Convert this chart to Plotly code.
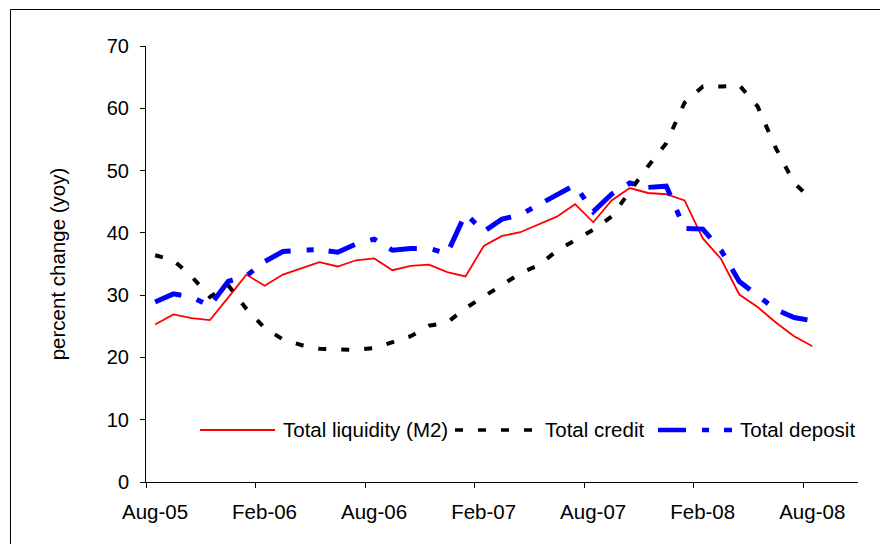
import plotly.graph_objects as go

# ---------------- data ----------------
months = ["Aug-05", "Sep-05", "Oct-05", "Nov-05", "Dec-05", "Jan-06",
          "Feb-06", "Mar-06", "Apr-06", "May-06", "Jun-06", "Jul-06",
          "Aug-06", "Sep-06", "Oct-06", "Nov-06", "Dec-06", "Jan-07",
          "Feb-07", "Mar-07", "Apr-07", "May-07", "Jun-07", "Jul-07",
          "Aug-07", "Sep-07", "Oct-07", "Nov-07", "Dec-07", "Jan-08",
          "Feb-08", "Mar-08", "Apr-08", "May-08", "Jun-08", "Jul-08",
          "Aug-08"]

total_liquidity_m2 = [25.3, 26.9, 26.3, 26.0, 29.6, 33.3, 31.5, 33.3, 34.3, 35.3,
                      34.6, 35.6, 35.9, 34.0, 34.7, 34.9, 33.7, 33.0, 37.9, 39.5,
                      40.1, 41.4, 42.6, 44.6, 41.7, 45.2, 47.2, 46.4, 46.2, 45.2,
                      39.1, 35.8, 30.1, 28.1, 25.6, 23.4, 21.8]

total_credit = [36.4, 35.6, 33.0, 29.7, 31.6, 27.8, 24.7, 22.9, 22.0, 21.4,
                21.3, 21.2, 21.5, 22.5, 23.4, 25.1, 25.6, 27.9, 29.8, 31.6,
                33.5, 34.8, 37.1, 38.8, 40.5, 42.6, 46.6, 50.7, 54.4, 60.9,
                63.5, 63.5, 63.7, 60.3, 53.6, 48.0, 45.3]

total_deposit = [28.9, 30.2, 29.7, 28.3, 32.2, 33.1, 35.4, 37.0, 37.2, 37.3,
                 36.9, 38.2, 39.0, 37.2, 37.5, 37.5, 36.7, 43.1, 40.2, 42.2,
                 42.9, 44.5, 46.3, 47.7, 43.4, 46.2, 48.0, 47.3, 47.5, 40.7,
                 40.6, 37.2, 32.2, 30.0, 27.7, 26.4, 25.9]

tick_labels = ["Aug-05", "Feb-06", "Aug-06", "Feb-07", "Aug-07", "Feb-08", "Aug-08"]
y_ticks = [0, 10, 20, 30, 40, 50, 60, 70]

series_names = ["Total liquidity (M2)", "Total credit", "Total deposit"]

# ---------------- styling ----------------
OFF = 8                               # page body margin
W, H = 888 - OFF, 544 - OFF
L, T = 146 - OFF, 46 - OFF            # plot area on screen: x 146..858, y 46..482
PW, PH = 712, 436
R, B = W - L - PW, H - T - PH
FONT = "Liberation Sans, Arial, Helvetica, sans-serif"
n_cat = len(months) + 2               # axis spans two extra (empty) months

x = list(range(len(months)))
styles = [
    dict(color="#FF0000", width=1.8, dash="solid"),
    dict(color="#000000", width=4, dash="8px,15px"),
    dict(color="#0000FF", width=5, dash="28px,16px,7px,15px"),
]
values = [total_liquidity_m2, total_credit, total_deposit]

fig = go.Figure()
for name, vals, st in zip(series_names, values, styles):
    fig.add_trace(go.Scatter(x=x, y=vals, mode="lines", name=name,
                             line=st, showlegend=False,
                             hovertemplate="%{text}: %{y}<extra>" + name + "</extra>",
                             text=months))


def px(sx):   # screen x -> paper
    return (sx - OFF - L) / PW


def py(sy):   # screen y -> paper
    return (T + PH - (sy - OFF)) / PH


# custom legend (long samples as in the original)
legend_layout = [  # (sample x0, sample x1, text x) in screen px
    (200, 275, 281),
    (455, 537, 543),
    (658, 732, 738),
]
shapes = []
annotations = []
for (x0, x1, tx), name, st in zip(legend_layout, series_names, styles):
    shapes.append(dict(type="line", xref="paper", yref="paper",
                       x0=px(x0), x1=px(x1), y0=py(430), y1=py(430),
                       line=dict(color=st["color"],
                                 width=st["width"] if st["width"] < 3 else st["width"] - 0.5,
                                 dash=st["dash"])))
    annotations.append(dict(text=name, xref="paper", yref="paper",
                            x=px(tx), y=py(429), xanchor="left", yanchor="middle",
                            showarrow=False, font=dict(family=FONT, size=20.5, color="#000000")))

# outer chart-area border
shapes.append(dict(type="rect", xref="paper", yref="paper",
                   x0=px(10.5), x1=px(900), y0=py(570), y1=py(9.5),
                   line=dict(color="#000000", width=1), layer="below"))

fig.update_layout(
    width=W, height=H,
    margin=dict(l=L, r=R, t=T, b=B, pad=0),
    paper_bgcolor="white", plot_bgcolor="white",
    font=dict(family=FONT, size=20.5, color="#000000"),
    shapes=shapes, annotations=annotations,
    showlegend=False,
)

fig.update_xaxes(
    range=[-0.5, n_cat - 0.5],
    tickmode="array",
    tickvals=[months.index(t) - 0.5 for t in tick_labels],
    ticktext=tick_labels,
    ticklabelshift=9,
    ticklabelstandoff=6,
    ticks="outside", ticklen=5, tickcolor="#000000", tickwidth=1,
    showline=True, linecolor="#000000", linewidth=1,
    showgrid=False, zeroline=False,
    tickfont=dict(family=FONT, size=20.5, color="#000000"),
)

fig.update_yaxes(
    range=[0, 70],
    tickmode="array", tickvals=y_ticks,
    ticks="outside", ticklen=5, tickcolor="#000000", tickwidth=1,
    ticklabelstandoff=7,
    showline=True, linecolor="#000000", linewidth=1,
    showgrid=False, zeroline=False,
    tickfont=dict(family=FONT, size=20, color="#000000"),
    title=dict(text="percent change (yoy)", standoff=35,
               font=dict(family=FONT, size=20.5, color="#000000")),
)

fig.write_html("out.html")
